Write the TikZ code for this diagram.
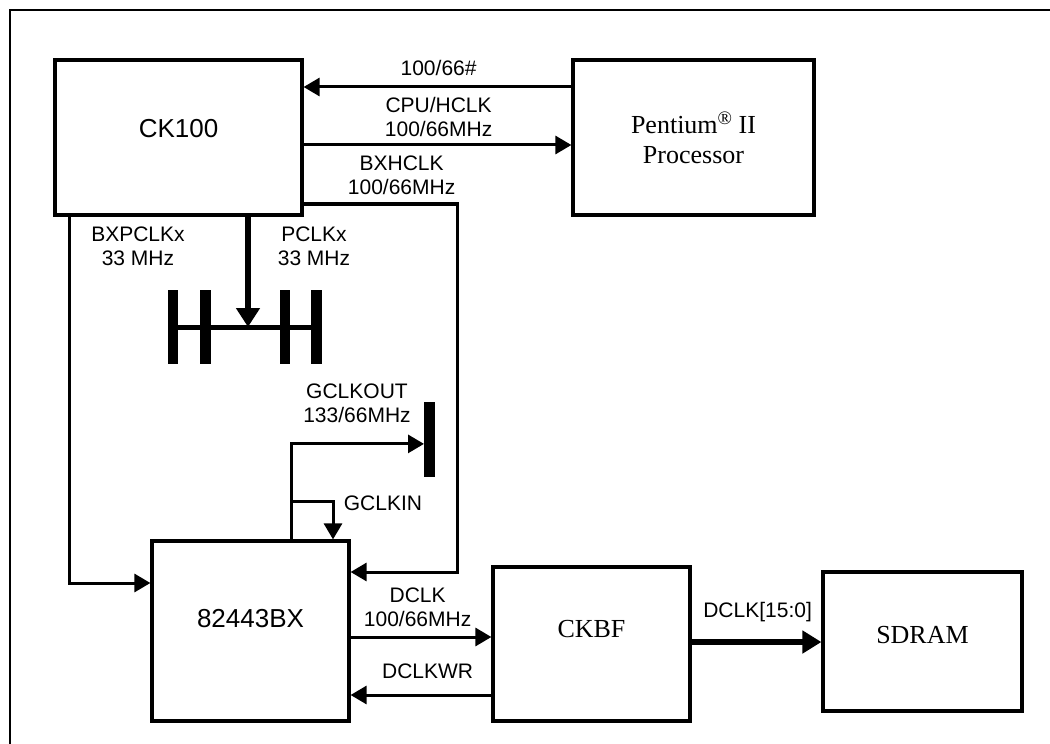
\documentclass[tikz,border=0pt]{standalone}
\usepackage{fontspec}
\setmainfont{Liberation Serif}
\setsansfont{Liberation Sans}
\usepackage{tikz}
\usetikzlibrary{arrows.meta, positioning, calc}
\tikzset{
    block/.style={
        rectangle,
        draw=black,
        line width=1.6pt,
        fill=white,
        font=\fontsize{13}{15}\selectfont
    },
    wire/.style={
        draw=black,
        line width=1.5pt,
        -{Triangle[length=8pt,width=9pt]}
    },
    thickwire/.style={
        draw=black,
        line width=2.75pt,
        -{Triangle[length=9.5pt,width=11.5pt]}
    },
    busline/.style={
        draw=black,
        line width=2.5pt
    },
    pcibar/.style={
        rectangle,
        fill=black,
        minimum width=5.25pt,
        minimum height=37pt,
        inner sep=0pt,
        outer sep=0pt
    },
    sig/.style={
        font=\sffamily\fontsize{10.5}{12}\selectfont,
        align=center,
        inner sep=0pt
    },
    frame/.style={
        draw=black,
        line width=1.4pt
    }
}

\begin{document}
\begin{tikzpicture}[node distance=0.5cm and 0.6cm]
\useasboundingbox (-89.25pt,68.75pt) rectangle (435.75pt,-303.25pt);

% Frame
\draw[frame] (-84.25pt,-303.25pt) -- (-84.25pt,63.75pt) -- (435.75pt,63.75pt);

% Chips
\node[block, font=\sffamily\fontsize{13}{15}\selectfont, minimum width=123.5pt, minimum height=77.5pt, text height=9.4pt, text depth=9.5pt] (ck) {CK100};
\node[block, minimum width=120.5pt, minimum height=77.5pt, align=center, right=133.9pt of ck] (cpu) {Pentium\raisebox{4.5pt}{\fontsize{9.5}{9.5}\selectfont\textregistered} II\\Processor};
\node[block, font=\sffamily\fontsize{13}{15}\selectfont, minimum width=98.5pt, minimum height=90pt, text height=9.4pt, text depth=13pt, below=161.4pt of ck, xshift=36pt] (bx) {82443BX};
\node[block, minimum width=98.5pt, minimum height=77pt, text height=8.6pt, text depth=15pt, right=70.4pt of bx.south east, anchor=south west] (ckbf) {CKBF};
\node[block, minimum width=99.5pt, minimum height=69.5pt, text height=8.6pt, text depth=6.5pt, right=64.9pt of ckbf, yshift=1.25pt] (sdram) {SDRAM};

% PCI bus
\node[pcibar, below=36.7pt of ck.south, xshift=13.5pt] (pb2) {};
\node[pcibar, left=11pt of pb2] (pb1) {};
\node[pcibar, right=34.5pt of pb2] (pb3) {};
\node[pcibar, right=10.5pt of pb3] (pb4) {};
\draw[busline] (pb1) -- (pb4);

% GCLKOUT bar
\node[pcibar, minimum width=5.5pt, minimum height=37.5pt] (gbar) at ([xshift=89.5pt,yshift=50pt]bx.north) {};

% CK100 <-> CPU
\draw[wire] ([yshift=25.25pt]cpu.west) -- ([yshift=25.25pt]ck.east);
\draw[wire] ([yshift=-3.75pt]ck.east) -- ([yshift=-3.75pt]cpu.west);
\node[sig] (l_sel) at ([xshift=67.5pt,yshift=34.75pt]ck.east) {100/66\#};
\node[sig] (l_hclk) at ([xshift=67.5pt,yshift=10.5pt]ck.east) {CPU/HCLK\\100/66MHz};

% CK100 -> 82443BX
\draw[wire] ([yshift=-33.25pt]ck.east) -- ++(77pt,0) |- ([yshift=29.5pt]bx.east);
\node[sig] (l_bxh) at ([xshift=49pt,yshift=-19pt]ck.east) {BXHCLK\\100/66MHz};

\draw[wire] ([xshift=8pt]ck.south west) |- ([yshift=24pt]bx.west);
\node[sig] (l_bxp) at ([xshift=-20.25pt,yshift=-15pt]ck.south) {BXPCLKx\\33 MHz};

\draw[thickwire] ([xshift=34.75pt]ck.south) -- ([xshift=34.75pt]ck.south |- pb1.center);
\node[sig] (l_pclk) at ([xshift=67.75pt,yshift=-15pt]ck.south) {PCLKx\\33 MHz};

% GCLK loop
\draw[wire] ([xshift=20.25pt]bx.north) |- ([yshift=-2.25pt]gbar.west);
\draw[wire] ([xshift=20.25pt,yshift=19pt]bx.north) -| ([xshift=41.25pt]bx.north);
\node[sig] (l_gout) at ([xshift=53.25pt,yshift=68.25pt]bx.north) {GCLKOUT\\133/66MHz};
\node[sig] (l_gin) at ([xshift=66.25pt,yshift=18pt]bx.north) {GCLKIN};

% 82443BX <-> CKBF
\draw[wire] ([yshift=-3pt]bx.east) -- ([yshift=-3pt]bx.east -| ckbf.west);
\draw[wire] ([yshift=-32pt]bx.east -| ckbf.west) -- ([yshift=-32pt]bx.east);
\node[sig] (l_dclk) at ([xshift=33.5pt,yshift=11.75pt]bx.east) {DCLK\\100/66MHz};
\node[sig] (l_dwr) at ([xshift=38.5pt,yshift=-20pt]bx.east) {DCLKWR};

% CKBF -> SDRAM
\draw[thickwire, line width=3pt, -{Triangle[length=9.5pt,width=11pt]}] ([yshift=1pt]ckbf.east) -- ([yshift=1pt]ckbf.east -| sdram.west);
\node[sig] (l_dq) at ([xshift=33pt,yshift=16pt]ckbf.east) {DCLK[15:0]};

\end{tikzpicture}
\end{document}
